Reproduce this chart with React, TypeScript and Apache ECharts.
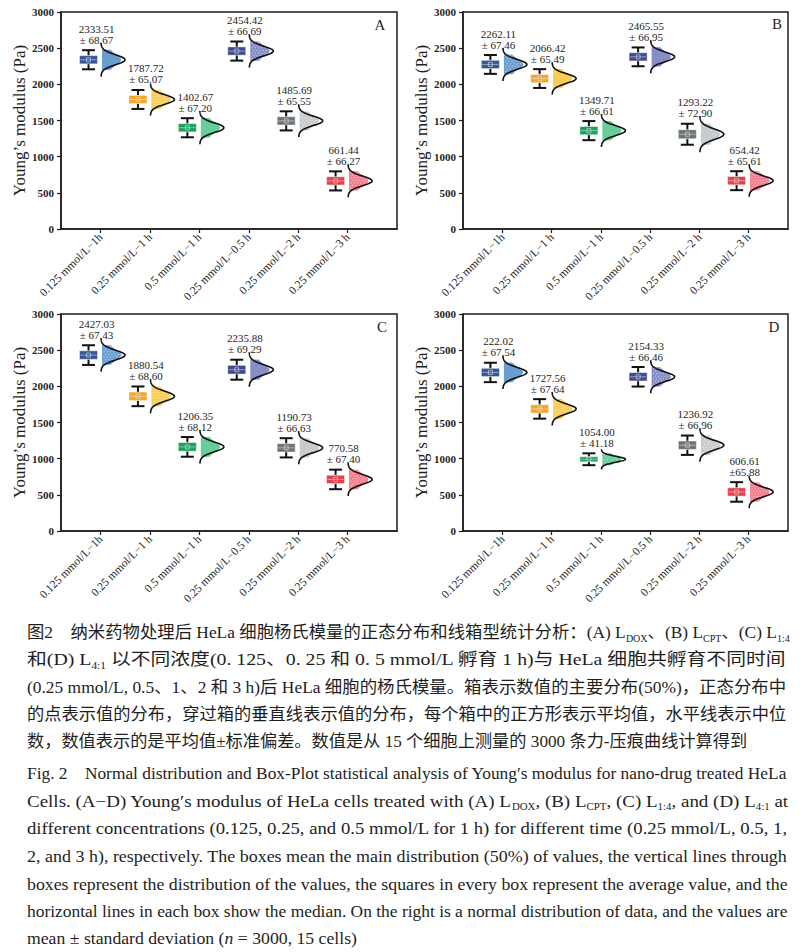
import React, { useEffect, useRef } from 'react';
import * as echarts from 'echarts';

// ---------- data ----------
const categories = [
  '0.125 mmol/L−1h',
  '0.25 mmol/L−1 h',
  '0.5 mmol/L−1 h',
  '0.25 mmol/L−0.5 h',
  '0.25 mmol/L−2 h',
  '0.25 mmol/L−3 h',
];
const groupPositions = [1, 2, 3, 4, 5, 6];
const panelLetters = ['A', 'B', 'C', 'D'];
const yAxisName = 'Young’s modulus (Pa)';

const boxColors = ['#35579a', '#f3a62b', '#16a25c', '#3f4b90', '#6c7478', '#e6404f'];
const dotColors = ['#5a93cc', '#f8c843', '#55c98f', '#7a82c0', '#c3c7c9', '#f37183'];

// Panel A (L_DOX)
const aMeanText = ['2333.51', '1787.72', '1402.67', '2454.42', '1485.69', '661.44'];
const aSdText = ['± 68.67', '± 65.07', '± 67.20', '± 66.69', '± 65.55', '± 66.27'];
const aSd = [68.67, 65.07, 67.2, 66.69, 65.55, 66.27];
const aLow = [2208, 1660, 1268, 2328, 1363, 533];
const aQ1 = [2283, 1733, 1343, 2403, 1438, 608];
const aMed = [2340, 1790, 1400, 2460, 1495, 665];
const aQ3 = [2397, 1847, 1457, 2517, 1552, 722];
const aHigh = [2472, 1922, 1532, 2592, 1627, 797];
const aMean = [2340, 1790, 1400, 2460, 1495, 665];

// Panel B (L_CPT)
const bMeanText = ['2262.11', '2066.42', '1349.71', '2465.55', '1293.22', '654.42'];
const bSdText = ['± 67.46', '± 65.49', '± 66.61', '± 66.95', '± 72.90', '± 65.61'];
const bSd = [67.46, 65.49, 66.61, 66.95, 72.9, 65.61];
const bLow = [2145, 1950, 1228, 2250, 1165, 537];
const bQ1 = [2218, 2023, 1303, 2323, 1248, 611];
const bMed = [2275, 2080, 1360, 2380, 1310, 668];
const bQ3 = [2332, 2137, 1417, 2437, 1372, 725];
const bHigh = [2405, 2210, 1492, 2510, 1455, 799];
const bMean = [2275, 2080, 1360, 2380, 1310, 668];

// Panel C (L_1:4)
const cMeanText = ['2427.03', '1880.54', '1206.35', '2235.88', '1190.73', '770.58'];
const cSdText = ['± 67.43', '± 68.60', '± 68.12', '± 69.29', '± 66.63', '± 67.40'];
const cSd = [67.43, 68.6, 68.12, 69.29, 66.63, 67.4];
const cLow = [2296, 1726, 1027, 2092, 1017, 578];
const cQ1 = [2373, 1803, 1103, 2170, 1092, 655];
const cMed = [2432, 1862, 1163, 2230, 1150, 713];
const cQ3 = [2491, 1921, 1223, 2290, 1208, 771];
const cHigh = [2568, 1998, 1299, 2368, 1283, 848];
const cMean = [2432, 1862, 1163, 2230, 1150, 713];

// Panel D (L_4:1)
const dMeanText = ['222.02', '1727.56', '1054.00', '2154.33', '1236.92', '606.61'];
const dSdText = ['± 67.54', '± 67.64', '± 41.18', '± 66.46', '± 66.96', '±65.88'];
const dSd = [67.54, 67.64, 41.18, 66.46, 66.96, 65.88];
const dLow = [2058, 1553, 910, 1997, 1052, 405];
const dQ1 = [2135, 1630, 957, 2074, 1128, 482];
const dMed = [2192, 1688, 992, 2132, 1186, 540];
const dQ3 = [2249, 1746, 1027, 2190, 1244, 598];
const dHigh = [2326, 1823, 1074, 2267, 1320, 675];
const dMean = [2192, 1688, 992, 2132, 1186, 540];

// Caption text (segments: 0 normal, 1 subscript, 2 italic)
const cnCaption: [string, number][][] = [
  [['图2　纳米药物处理后 HeLa 细胞杨氏模量的正态分布和线箱型统计分析：(A) L', 0], ['DOX', 1], ['、(B) L', 0], ['CPT', 1], ['、(C) L', 0], ['1:4', 1]],
  [['和(D) L', 0], ['4:1', 1], [' 以不同浓度(0. 125、0. 25 和 0. 5 mmol/L 孵育 1 h)与 HeLa 细胞共孵育不同时间', 0]],
  [['(0.25 mmol/L, 0.5、1、2 和 3 h)后 HeLa 细胞的杨氏模量。箱表示数值的主要分布(50%)，正态分布中', 0]],
  [['的点表示值的分布，穿过箱的垂直线表示值的分布，每个箱中的正方形表示平均值，水平线表示中位', 0]],
  [['数，数值表示的是平均值±标准偏差。数值是从 15 个细胞上测量的 3000 条力-压痕曲线计算得到', 0]],
];
const enCaption: [string, number][][] = [
  [['Fig. 2　Normal distribution and Box-Plot statistical analysis of Young′s modulus for nano-drug treated HeLa', 0]],
  [['Cells. (A−D) Young′s modulus of HeLa cells treated with (A) L', 0], ['DOX', 1], [', (B) L', 0], ['CPT', 1], [', (C) L', 0], ['1:4', 1], [', and (D) L', 0], ['4:1', 1], [' at', 0]],
  [['different concentrations (0.125, 0.25, and 0.5 mmol/L for 1 h) for different time (0.25 mmol/L, 0.5, 1,', 0]],
  [['2, and 3 h), respectively. The boxes mean the main distribution (50%) of values, the vertical lines through', 0]],
  [['boxes represent the distribution of the values, the squares in every box represent the average value, and the', 0]],
  [['horizontal lines in each box show the median. On the right is a normal distribution of data, and the values are', 0]],
  [['mean ± standard deviation (', 0], ['n', 2], [' = 3000, 15 cells)', 0]],
];

// ---------- layout ----------
const SERIF = "'Liberation Serif', 'Times New Roman', serif";
const CAP_FAMILY = "'Liberation Serif', 'Noto Sans CJK SC', serif";
const INK = '#1e1e1e';

const panels = [
  { meanText: aMeanText, sdText: aSdText, sd: aSd, low: aLow, q1: aQ1, med: aMed, q3: aQ3, high: aHigh, mean: aMean },
  { meanText: bMeanText, sdText: bSdText, sd: bSd, low: bLow, q1: bQ1, med: bMed, q3: bQ3, high: bHigh, mean: bMean },
  { meanText: cMeanText, sdText: cSdText, sd: cSd, low: cLow, q1: cQ1, med: cMed, q3: cQ3, high: cHigh, mean: cMean },
  { meanText: dMeanText, sdText: dSdText, sd: dSd, low: dLow, q1: dQ1, med: dMed, q3: dQ3, high: dHigh, mean: dMean },
];

const gridRects = [
  { left: 61, top: 12, width: 336, height: 217, xMax: 7, letterX: 380, letterY: 25 },
  { left: 463, top: 12, width: 325, height: 217, xMax: 6.8, letterX: 777, letterY: 24 },
  { left: 61, top: 314, width: 336, height: 217, xMax: 7, letterX: 382, letterY: 327 },
  { left: 463, top: 314, width: 325, height: 217, xMax: 6.8, letterX: 774, letterY: 327 },
];

function makeRenderItem(p: any) {
  return (params: any, api: any) => {
    const i = params.dataIndex;
    const pos = api.value(0);
    const tick = api.coord([pos, 0])[0];
    const Y = (v: number) => api.coord([pos, v])[1];
    const sdPx = api.size([0, p.sd[i]])[1];
    const bx = tick - 12;
    const yHigh = Y(p.high[i]);
    const yLow = Y(p.low[i]);
    const yQ1 = Y(p.q1[i]);
    const yQ3 = Y(p.q3[i]);
    const yMed = Y(p.med[i]);
    const yMean = Y(p.mean[i]);
    const x0 = tick + 0.5;
    const W = 24;
    const curve: number[][] = [];
    for (let k = -34; k <= 34; k++) {
      const z = k / 10;
      curve.push([x0 + W * Math.exp((-z * z) / 2), yMean - z * sdPx]);
    }
    const fillWidth = (z: number) => W * (0.3 + 0.5 * Math.exp((-z * z) / 2));
    const fill: number[][] = [[x0 + 1, yMean - 2.05 * sdPx]];
    for (let k = 20; k >= -20; k--) {
      const z = k / 10;
      fill.push([x0 + 1 + fillWidth(z), yMean - z * sdPx]);
    }
    fill.push([x0 + 1, yMean + 2.05 * sdPx]);
    // speckle texture inside the dot cloud
    const speckles: any[] = [];
    const halfH = 2 * sdPx;
    let row = 0;
    for (let dy = -halfH + 1.2; dy <= halfH - 1; dy += 2.6, row++) {
      const z = -dy / sdPx;
      const w = fillWidth(z);
      for (let dx = 2 + (row % 2) * 1.6; dx < w - 0.5; dx += 3.2) {
        speckles.push({
          type: 'circle',
          shape: { cx: x0 + 1 + dx, cy: yMean + dy, r: 0.6 },
          style: { fill: '#ffffff', opacity: 0.55 },
          silent: true,
        });
      }
    }
    const capHalf = 6.5;
    const boxHalf = 9;
    return {
      type: 'group',
      children: [
        { type: 'polygon', shape: { points: fill }, style: { fill: dotColors[i], opacity: 0.9 } },
        ...speckles,
        { type: 'polyline', shape: { points: curve }, style: { stroke: '#111', lineWidth: 1.6, fill: 'none' } },
        { type: 'line', shape: { x1: bx, y1: yHigh, x2: bx, y2: yQ3 }, style: { stroke: '#111', lineWidth: 2 } },
        { type: 'line', shape: { x1: bx, y1: yQ1, x2: bx, y2: yLow }, style: { stroke: '#111', lineWidth: 2 } },
        { type: 'line', shape: { x1: bx - capHalf, y1: yHigh, x2: bx + capHalf, y2: yHigh }, style: { stroke: '#111', lineWidth: 2 } },
        { type: 'line', shape: { x1: bx - capHalf, y1: yLow, x2: bx + capHalf, y2: yLow }, style: { stroke: '#111', lineWidth: 2 } },
        {
          type: 'rect',
          shape: { x: bx - boxHalf, y: yQ3, width: boxHalf * 2, height: yQ1 - yQ3 },
          style: { fill: boxColors[i], stroke: 'rgba(255,255,255,0.45)', lineWidth: 1 },
        },
        { type: 'line', shape: { x1: bx - boxHalf + 1, y1: yMed, x2: bx + boxHalf - 1, y2: yMed }, style: { stroke: 'rgba(255,255,255,0.45)', lineWidth: 1 } },
        { type: 'rect', shape: { x: bx - 2, y: yMean - 2, width: 4, height: 4 }, style: { fill: 'none', stroke: 'rgba(220,220,220,0.8)', lineWidth: 0.8 } },
        {
          type: 'text',
          x: tick - 4,
          y: yHigh - 5,
          style: {
            text: p.meanText[i] + '\n' + p.sdText[i],
            align: 'center',
            verticalAlign: 'bottom',
            fontSize: 11,
            fontFamily: SERIF,
            lineHeight: 11,
            fill: INK,
          },
        },
      ],
    };
  };
}

let measureCtx: CanvasRenderingContext2D | null = null;
function measureSegs(segs: [string, number][], fs: number, subFs: number) {
  if (!measureCtx) measureCtx = document.createElement('canvas').getContext('2d');
  let w = 0;
  for (const [t, kind] of segs) {
    const size = kind === 1 ? subFs : fs;
    measureCtx!.font = `${kind === 2 ? 'italic ' : ''}${size}px ${CAP_FAMILY}`;
    w += measureCtx!.measureText(t).width;
  }
  return w;
}

function captionText(segs: [string, number][], y: number, target: number, fs: number, subFs: number) {
  const w = measureSegs(segs, fs, subFs);
  const text = segs.map(([t, k]) => `{${k === 1 ? 's' : k === 2 ? 'i' : 'n'}|${t}}`).join('');
  return {
    type: 'text',
    x: 27,
    y,
    scaleX: target / w,
    style: {
      text,
      align: 'left',
      verticalAlign: 'middle',
      rich: {
        n: { fontSize: fs, fontFamily: CAP_FAMILY, fill: INK, lineHeight: fs + 4, verticalAlign: 'middle' },
        i: { fontSize: fs, fontFamily: CAP_FAMILY, fontStyle: 'italic', fill: INK, lineHeight: fs + 4, verticalAlign: 'middle' },
        s: { fontSize: subFs, fontFamily: CAP_FAMILY, fill: INK, lineHeight: subFs, verticalAlign: 'bottom' },
      },
    },
  };
}

function buildOption() {
  const grid = gridRects.map((g) => ({
    left: g.left, top: g.top, width: g.width, height: g.height,
    show: true, borderColor: INK, borderWidth: 1.5, backgroundColor: 'transparent',
  }));
  const xAxis = gridRects.map((g, k) => ({
    gridIndex: k,
    type: 'value',
    min: 0.2,
    max: g.xMax,
    splitLine: { show: false },
    axisLine: { show: true, onZero: false, lineStyle: { color: INK, width: 1.5 } },
    axisTick: { show: true, customValues: groupPositions, length: 4, lineStyle: { color: INK, width: 1.2 } },
    axisLabel: {
      customValues: groupPositions,
      formatter: (v: number) => categories[Math.round(v) - 1] ?? '',
      rotate: 45,
      margin: 6,
      fontSize: 11.5,
      fontFamily: SERIF,
      color: INK,
    },
  }));
  const yAxis = gridRects.map((g, k) => ({
    gridIndex: k,
    type: 'value',
    min: 0,
    max: 3000,
    interval: 500,
    splitLine: { show: false },
    axisLine: { show: true, onZero: false, lineStyle: { color: INK, width: 1.5 } },
    axisTick: { show: true, length: 4, lineStyle: { color: INK, width: 1.2 } },
    axisLabel: {
      fontSize: 11,
      fontWeight: 'bold',
      fontFamily: SERIF,
      color: INK,
      margin: 7,
      formatter: (v: number) => String(v),
    },
    name: yAxisName,
    nameLocation: 'middle',
    nameGap: 31,
    nameTextStyle: { fontSize: 17, fontFamily: SERIF, color: INK },
  }));
  const series = panels.map((p, k) => ({
    type: 'custom',
    xAxisIndex: k,
    yAxisIndex: k,
    clip: false,
    renderItem: makeRenderItem(p),
    encode: { x: 0, y: [1, 2] },
    data: groupPositions.map((pos, j) => [pos, p.low[j], p.high[j]]),
  }));

  const cnY = [633, 660, 688, 715, 742];
  const cnTarget = [763, 760, 760, 760, 721];
  const enY = [773, 801, 828, 856, 884, 911, 938];
  const enTarget = [761, 761, 761, 761, 761, 761, 330];

  const graphic: any[] = [];
  gridRects.forEach((g, k) => {
    graphic.push({
      type: 'text', x: g.letterX, y: g.letterY,
      style: { text: panelLetters[k], fontSize: 15, fontFamily: SERIF, fill: INK, align: 'center', verticalAlign: 'middle' },
    });
  });
  cnCaption.forEach((segs, k) => graphic.push(captionText(segs, cnY[k], cnTarget[k], 16.5, 9.5)));
  enCaption.forEach((segs, k) => graphic.push(captionText(segs, enY[k], enTarget[k], 17.5, 10)));

  return { animation: false, backgroundColor: '#fff', grid, xAxis, yAxis, series, graphic };
}

export default function App() {
  const ref = useRef<HTMLDivElement>(null);
  useEffect(() => {
    const chart = echarts.init(ref.current!, undefined, { renderer: 'svg' });
    chart.setOption(buildOption() as any);
    return () => chart.dispose();
  }, []);
  return (
    <div
      ref={ref}
      style={{ position: 'absolute', left: 0, top: 0, width: 800, height: 952, background: '#fff' }}
    />
  );
}
